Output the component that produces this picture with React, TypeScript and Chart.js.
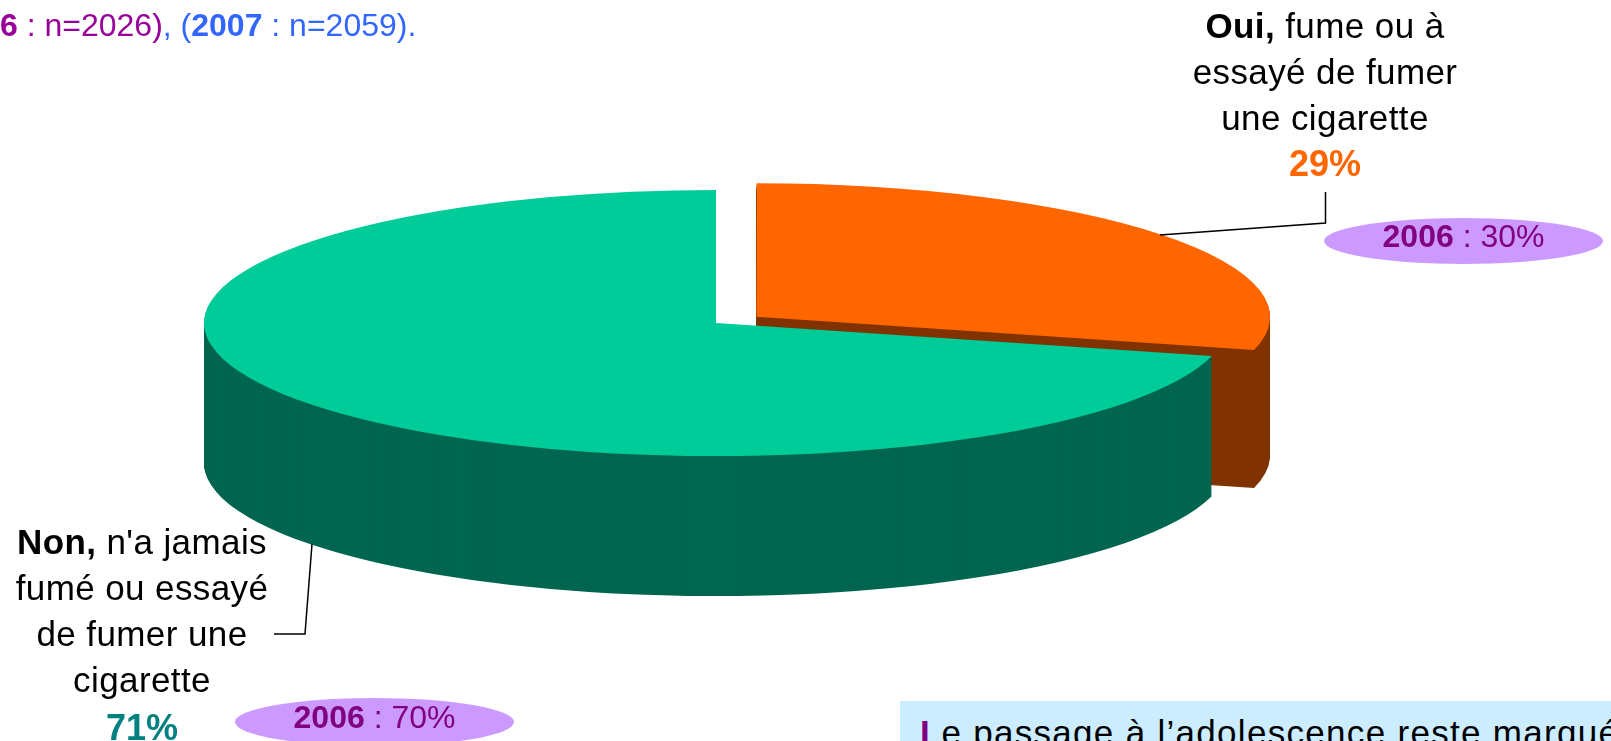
import React, { useEffect, useRef } from "react";
import { Chart, registerables } from "chart.js";

Chart.register(...registerables);

const categories = ["Oui", "Non"];
const values2007 = [29, 71];
const values2006 = [30, 70];
const topColors = ["#FF6600", "#00CC99"];
const sideColors = ["#803300", "#006650"];
const pctColors = ["#FF6600", "#008080"];
const labelOui = [["Oui,", " fume ou à"], ["", "essayé de fumer"], ["", "une cigarette"]];
const labelNon = [["Non,", " n'a jamais"], ["", "fumé ou essayé"], ["", "de fumer une"], ["", "cigarette"]];
const headerText = "Le passage à l’adolescence reste marqué";

const TILT = 0.26;
const DEPTHS = [138, 140];
const NUDGE = [2, 0];

const pie3d = {
  id: "pie3d",
  beforeDatasetDraw(chart: any, args: any) {
    const ctx = chart.ctx;
    const arcs = args.meta.data;
    const paint = (arc: any, color: string, dy: number) => {
      const clone = Object.create(arc);
      Object.defineProperty(clone, "options", {
        value: { ...arc.options, backgroundColor: color },
        writable: true,
      });
      ctx.save();
      ctx.translate(arc.x, arc.y + dy);
      ctx.scale(1, TILT);
      ctx.translate(-arc.x, -arc.y);
      clone.draw(ctx);
      ctx.restore();
    };
    arcs.forEach((arc: any, i: number) => {
      for (let d = DEPTHS[i]; d >= 1; d--) paint(arc, sideColors[i], d + NUDGE[i]);
      paint(arc, topColors[i], NUDGE[i]);
    });
    return false;
  },
  afterDraw(chart: any) {
    const ctx = chart.ctx;
    ctx.save();
    ctx.strokeStyle = "#000";
    ctx.lineWidth = 1.5;
    ctx.beginPath();
    ctx.moveTo(1160, 235);
    ctx.lineTo(1325.5, 223);
    ctx.lineTo(1325.5, 192);
    ctx.moveTo(312, 544);
    ctx.lineTo(305, 634);
    ctx.lineTo(274, 634);
    ctx.stroke();
    ctx.restore();
  },
};

const font = '"Liberation Sans", Arial, sans-serif';

function Label({ lines, pct, pctColor, cx, top, pctShift }: any) {
  return (
    <div
      style={{
        position: "absolute",
        left: cx - 200,
        width: 400,
        top,
        textAlign: "center",
        fontFamily: font,
        fontSize: 35,
        lineHeight: "46px",
        letterSpacing: 0.4,
        color: "#000",
        whiteSpace: "nowrap",
      }}
    >
      {lines.map((l: string[], i: number) => (
        <div key={i}>
          {l[0] ? <b>{l[0]}</b> : null}
          {l[1]}
        </div>
      ))}
      <div style={{ position: "relative", top: pctShift, color: pctColor, fontWeight: 700, fontSize: 36, letterSpacing: 0 }}>
        {pct}%
      </div>
    </div>
  );
}

function Bubble({ left, top, width, height, value, textTop }: any) {
  return (
    <div
      style={{
        position: "absolute",
        left,
        top,
        width,
        height,
        borderRadius: "50%",
        background: "#CC99FF",
        textAlign: "center",
        fontFamily: font,
        fontSize: 32,
        lineHeight: "34px",
        color: "#800080",
        whiteSpace: "nowrap",
      }}
    >
      <div style={{ position: "relative", top: textTop }}>
        <b>2006</b> : {value}%
      </div>
    </div>
  );
}

export default function App() {
  const ref = useRef<HTMLCanvasElement>(null);
  useEffect(() => {
    const chart = new Chart(ref.current!, {
      type: "pie",
      data: {
        labels: categories,
        datasets: [
          {
            data: values2007,
            backgroundColor: topColors,
            borderWidth: 0,
            offset: [205, 0],
            clip: false,
          } as any,
        ],
      },
      options: {
        responsive: false,
        animation: false,
        radius: 512,
        layout: { padding: { left: 0, top: 0, right: 179, bottom: 95 } },
        plugins: { legend: { display: false }, tooltip: { enabled: false } },
      } as any,
      plugins: [pie3d],
    });
    return () => chart.destroy();
  }, []);

  return (
    <div style={{ position: "fixed", left: 0, top: 0, width: 1611, height: 741, overflow: "hidden", background: "#fff" }}>
      <canvas ref={ref} width={1611} height={741} style={{ position: "absolute", left: 0, top: 0, display: "block" }} />
      <div
        style={{
          position: "absolute",
          left: 0,
          top: 7,
          fontFamily: font,
          fontSize: 32,
          lineHeight: "36px",
          whiteSpace: "nowrap",
          color: "#990099",
        }}
      >
        <b>6</b> : n=2026)<span style={{ color: "#3366FF" }}>, (<b>2007</b> : n=2059).</span>
      </div>
      <Label lines={labelOui} pct={values2007[0]} pctColor={pctColors[0]} cx={1325} top={3} pctShift={0} />
      <Label lines={labelNon} pct={values2007[1]} pctColor={pctColors[1]} cx={142} top={519} pctShift={2} />
      <Bubble left={1324} top={218} width={279} height={46} value={values2006[0]} textTop={1} />
      <Bubble left={235} top={698} width={279} height={48} value={values2006[1]} textTop={2} />
      <div
        style={{
          position: "absolute",
          left: 900,
          top: 701,
          width: 720,
          height: 60,
          background: "#CCECFF",
          fontFamily: font,
          fontSize: 35,
          lineHeight: "46px",
          whiteSpace: "nowrap",
          color: "#000",
          paddingLeft: 20,
          paddingTop: 9,
          boxSizing: "border-box",
          letterSpacing: 1.3,
        }}
      >
        <span style={{ color: "#800080", fontWeight: 700, letterSpacing: 0 }}>{headerText[0]}</span>
        {headerText.slice(1)}
      </div>
    </div>
  );
}
